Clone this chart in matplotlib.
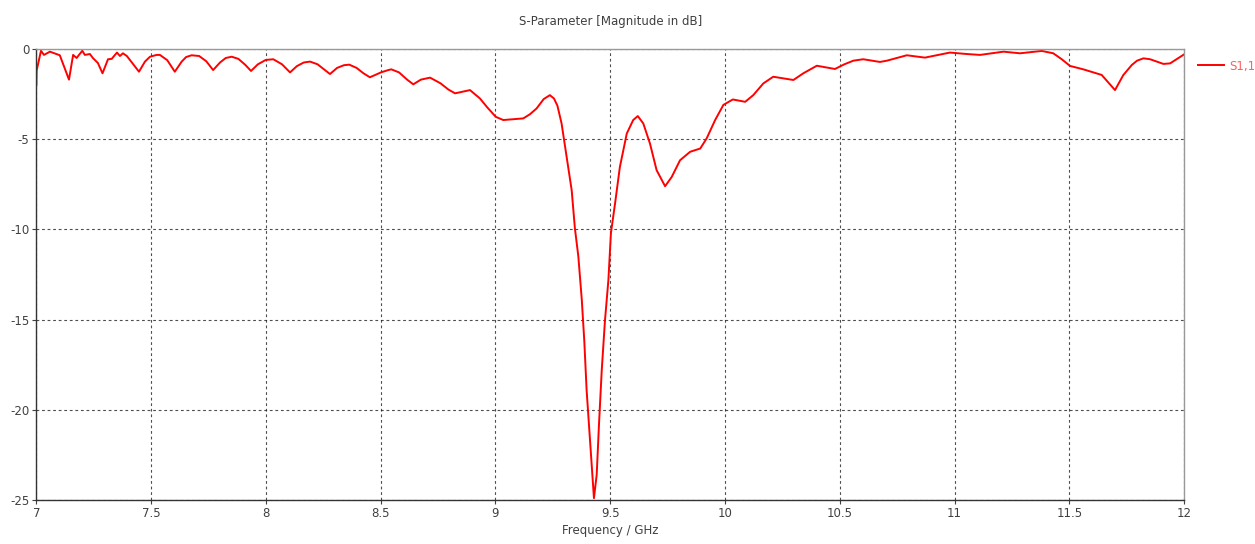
import matplotlib
matplotlib.use("Agg")
import matplotlib.pyplot as plt

# S1,1 magnitude (GHz, dB)
freq_ghz = [
    7.000, 7.001, 7.020, 7.033, 7.059, 7.102, 7.142, 7.160, 7.175, 7.200,
    7.211, 7.233, 7.246, 7.268, 7.288, 7.312, 7.328, 7.351, 7.364, 7.377,
    7.394, 7.447, 7.473, 7.495, 7.524, 7.538, 7.570, 7.603, 7.633, 7.652,
    7.676, 7.709, 7.740, 7.770, 7.800, 7.825, 7.851, 7.880, 7.910, 7.935,
    7.965, 7.999, 8.032, 8.070, 8.105, 8.135, 8.165, 8.192, 8.225, 8.255,
    8.279, 8.310, 8.340, 8.363, 8.395, 8.425, 8.453, 8.501, 8.533, 8.546,
    8.580, 8.615, 8.642, 8.675, 8.715, 8.760, 8.795, 8.824, 8.889, 8.932,
    8.965, 9.001, 9.034, 9.121, 9.150, 9.179, 9.210, 9.237, 9.255, 9.270,
    9.288, 9.310, 9.332, 9.346, 9.361, 9.376, 9.387, 9.397, 9.412, 9.429,
    9.441, 9.451, 9.463, 9.477, 9.492, 9.503, 9.521, 9.542, 9.572, 9.600,
    9.620, 9.644, 9.673, 9.702, 9.739, 9.768, 9.804, 9.848, 9.892, 9.920,
    9.957, 9.993, 10.034, 10.088, 10.123, 10.167, 10.210, 10.298, 10.341,
    10.400, 10.479, 10.520, 10.559, 10.602, 10.675, 10.705, 10.792, 10.871,
    10.980, 11.053, 11.111, 11.213, 11.285, 11.380, 11.430, 11.467, 11.503,
    11.561, 11.641, 11.699, 11.735, 11.772, 11.795, 11.823, 11.852, 11.910,
    11.939, 12.000,
]
s11_db = [
    -2.00, -1.20, -0.10, -0.33, -0.15, -0.35, -1.70, -0.33, -0.50, -0.10,
    -0.33, -0.28, -0.50, -0.78, -1.35, -0.57, -0.55, -0.20, -0.39, -0.24,
    -0.39, -1.26, -0.70, -0.43, -0.33, -0.33, -0.62, -1.26, -0.70, -0.45,
    -0.35, -0.39, -0.68, -1.17, -0.75, -0.50, -0.43, -0.55, -0.88, -1.22,
    -0.85, -0.61, -0.57, -0.85, -1.30, -0.95, -0.75, -0.70, -0.85, -1.15,
    -1.39, -1.05, -0.90, -0.87, -1.05, -1.35, -1.57, -1.30, -1.17, -1.13,
    -1.30, -1.70, -1.96, -1.70, -1.59, -1.90, -2.25, -2.46, -2.28, -2.74,
    -3.25, -3.76, -3.94, -3.85, -3.62, -3.30, -2.78, -2.56, -2.75, -3.15,
    -4.13, -5.98, -7.83, -9.94, -11.50, -13.90, -16.20, -18.90, -21.70, -24.90,
    -23.60, -20.80, -17.80, -15.06, -12.80, -10.20, -8.56, -6.54, -4.69, -3.94,
    -3.72, -4.13, -5.24, -6.72, -7.61, -7.09, -6.17, -5.70, -5.52, -4.96,
    -3.94, -3.10, -2.80, -2.93, -2.56, -1.91, -1.54, -1.72, -1.35,
    -0.93, -1.11, -0.85, -0.65, -0.57, -0.72, -0.65, -0.35, -0.48,
    -0.20, -0.28, -0.33, -0.15, -0.24, -0.11, -0.24, -0.57, -0.94,
    -1.13, -1.44, -2.28, -1.45, -0.89, -0.65, -0.52, -0.57, -0.83,
    -0.80, -0.30,
]

x_ticks = [7, 7.5, 8, 8.5, 9, 9.5, 10, 10.5, 11, 11.5, 12]
x_tick_labels = ["7", "7.5", "8", "8.5", "9", "9.5", "10", "10.5", "11", "11.5", "12"]
y_ticks = [0, -5, -10, -15, -20, -25]
y_tick_labels = ["0", "-5", "-10", "-15", "-20", "-25"]

text_col = "#404040"

fig = plt.figure(figsize=(12.55, 5.44), dpi=100)
ax = fig.add_axes([0.029, 0.081, 0.9145, 0.829])

ax.plot(freq_ghz, s11_db, color="#ff0000", lw=1.4, label="S1,1",
        solid_joinstyle="round")

ax.set_xlim(7, 12)
ax.set_ylim(-25, 0)
ax.set_xticks(x_ticks)
ax.set_xticklabels(x_tick_labels)
ax.set_yticks(y_ticks)
ax.set_yticklabels(y_tick_labels)
ax.tick_params(labelsize=8.5, colors=text_col, length=3, width=0.8, pad=2)

ax.grid(True, color="#222222", linestyle=(0, (2.5, 2.5)), linewidth=0.8, alpha=0.8)

for side in ["left", "bottom"]:
    ax.spines[side].set_color("#333333")
    ax.spines[side].set_linewidth(1.0)
for side in ["top", "right"]:
    ax.spines[side].set_color("#999999")
    ax.spines[side].set_linewidth(1.0)

ax.set_title("S-Parameter [Magnitude in dB]", fontsize=8.5, color=text_col, pad=17)
ax.set_xlabel("Frequency / GHz", fontsize=8.5, color=text_col, labelpad=3)

ax.legend(loc="upper left", bbox_to_anchor=(1.003, 1.0), frameon=False,
          fontsize=8.5, labelcolor="#ff6060", handlelength=2.2, handletextpad=0.4)

fig.savefig("out.png", dpi=100)
